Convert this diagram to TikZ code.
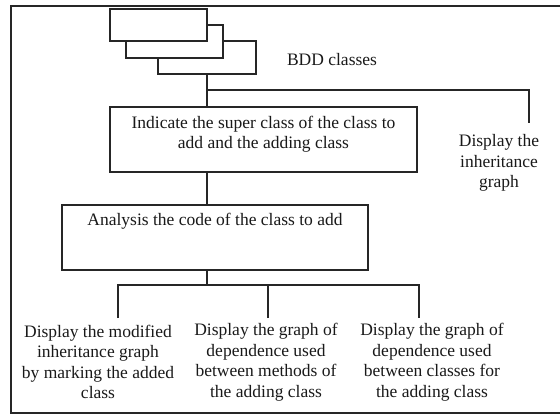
\documentclass[tikz,border=0pt]{standalone}
\usepackage{fontspec}
\setmainfont{Liberation Serif}
\begin{document}
\begin{tikzpicture}[x=1pt,y=-1pt,
  line width=1.3pt, draw=black!85,
  frame/.style={draw, line width=1.4pt},
  box/.style={draw, fill=white, inner sep=0pt},
  txt/.style={font=\fontsize{17.5}{20.5}\selectfont, align=center, inner sep=0pt, text=black!90}
]
\useasboundingbox (0,0) rectangle (560,415);
% outer frame (right side cut off)
\draw[frame] (563,6) -- (11,6) -- (11,413) -- (563,413);
% stacked class boxes
\node[box, minimum width=98pt, minimum height=33pt] (b3) at (207,57.5) {};
\node[box, minimum width=97pt, minimum height=33pt] (b2) at (174.5,41.5) {};
\node[box, minimum width=97pt, minimum height=32pt] (b1) at (158.5,25) {};
\node[txt] (bdd) at (332,60) {BDD classes};
% main boxes
\node[box, minimum width=307pt, minimum height=65pt] (ind) at (263.5,139.5) {};
\node[txt, anchor=north] (indt) at ([yshift=-9pt]ind.north) {Indicate the super class of the class to\\add and the adding class};
\node[box, minimum width=306pt, minimum height=65pt] (ana) at (215,237.5) {};
\node[txt, anchor=north] (anat) at ([yshift=-8pt]ana.north) {Analysis the code of the class to add};
% outputs
\node[txt] (inh) at (499,163) {Display the\\inheritance\\graph};
\node[txt] (o1) at (98,362) {Display the modified\\inheritance graph\\by marking the added\\class};
\node[txt] (o2) at (266,362) {Display the graph of\\dependence used\\between methods of\\the adding class};
\node[txt] (o3) at (432,362) {Display the graph of\\dependence used\\between classes for\\the adding class};
% connectors
\coordinate (j1) at (207,90);
\coordinate (e1) at (529,123);
\draw (b3.south) -- (ind.north -| b3.south);
\draw (j1) -| (e1);
\draw (ind.south -| b3.south) -- (ana.north -| b3.south);
\coordinate (j2) at (207,285);
\coordinate (e2) at (118,318);
\coordinate (e3) at (268,318);
\coordinate (e4) at (419,318);
\draw (ana.south -| j2) -- (j2);
\draw (e2) |- (j2) -| (e4);
\draw (e3) -- (e3 |- j2);
\end{tikzpicture}
\end{document}
